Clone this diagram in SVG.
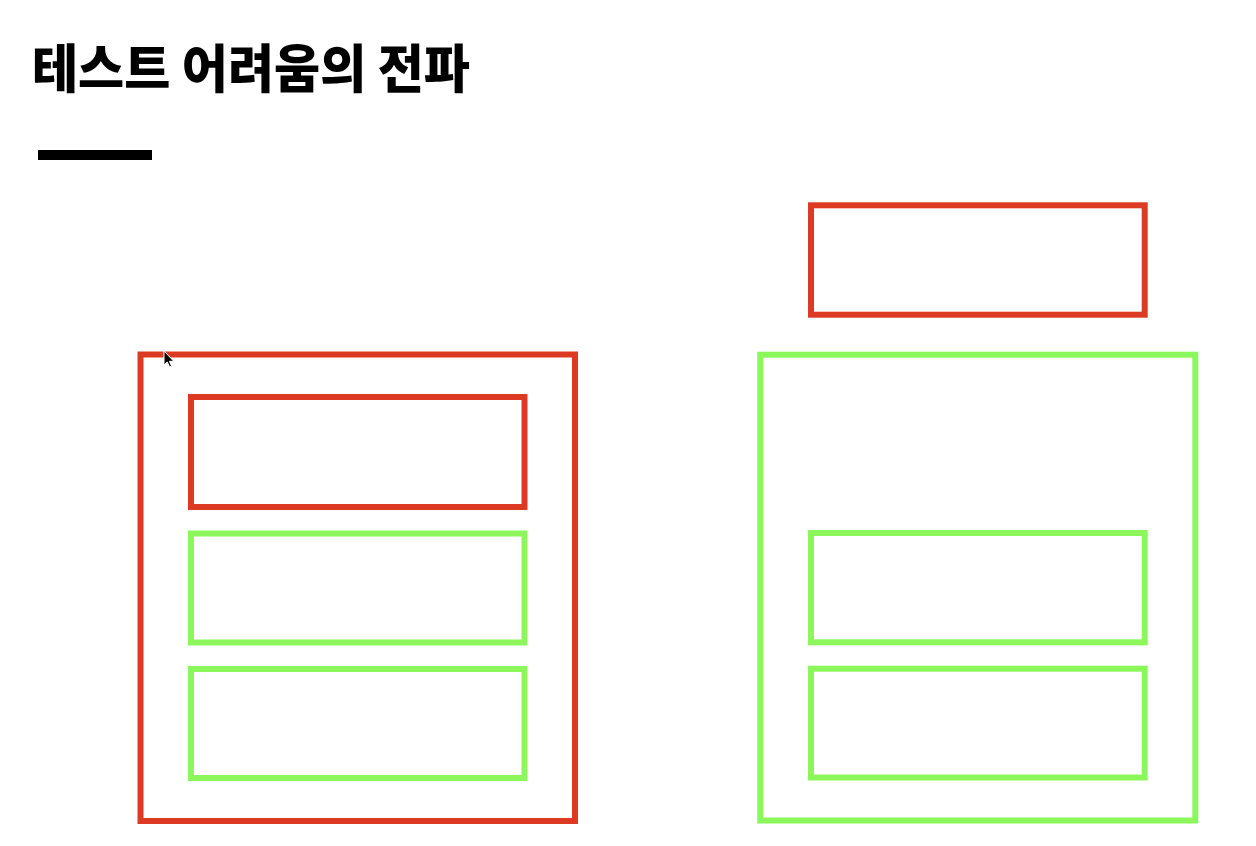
<svg xmlns="http://www.w3.org/2000/svg" width="1256" height="846" viewBox="0 0 1256 846">
  <style>
    .red { fill: none; stroke: #DC3A23; stroke-width: 6; }
    .green { fill: none; stroke: #8CF75A; stroke-width: 6; }
    .title { font-family: "Noto Sans CJK KR", "Noto Sans", sans-serif; font-weight: 900; font-size: 52px; fill: #000; }
  </style>
  <rect x="0" y="0" width="1256" height="846" fill="#FFFFFF"/>
  <g id="title">
    <text class="title" x="32" y="88" textLength="438" lengthAdjust="spacingAndGlyphs">테스트 어려움의 전파</text>
    <rect x="38" y="150" width="114" height="10" fill="#000"/>
  </g>
  <g id="left-outer">
    <rect class="red" x="140.5" y="354.5" width="434.5" height="466.5"/>
  </g>
  <g id="left-inner-red">
    <rect class="red" x="191" y="397" width="333.5" height="110"/>
  </g>
  <g id="left-green-1">
    <rect class="green" x="191" y="533.5" width="333.5" height="109"/>
  </g>
  <g id="left-green-2">
    <rect class="green" x="191" y="669" width="333.5" height="109"/>
  </g>
  <g id="right-top-red">
    <rect class="red" x="811" y="205.3" width="333.7" height="109.4"/>
  </g>
  <g id="right-outer">
    <rect class="green" x="760.3" y="354.7" width="435" height="465.8"/>
  </g>
  <g id="right-green-1">
    <rect class="green" x="811" y="533" width="333.7" height="109.3"/>
  </g>
  <g id="right-green-2">
    <rect class="green" x="811" y="668.7" width="333.7" height="108.8"/>
  </g>
  <g id="connectors"/>
  <g id="cursor" transform="translate(164,351)">
    <polygon points="0,0 0,14 3.3,11 5.6,16 7.6,15.1 5.4,10.3 9.8,10.3" fill="#000" stroke="#fff" stroke-width="1" stroke-linejoin="round"/>
  </g>
</svg>
